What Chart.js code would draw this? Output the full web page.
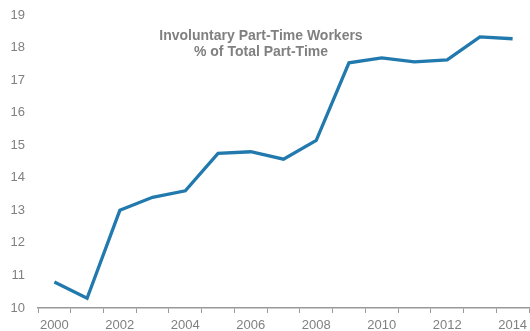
<!DOCTYPE html>
<html>
<head>
<meta charset="utf-8">
<script src="https://cdn.jsdelivr.net/npm/chart.js@4/dist/chart.umd.min.js"></script>
<style>
    html, body { margin: 0; padding: 0; background: #ffffff; }
    #wrap { width: 530px; height: 331px; }
</style>
</head>
<body>
<div id="wrap"><canvas id="chart" width="530" height="331"></canvas></div>
<script>
// Involuntary part-time workers as % of total part-time, yearly
const years = ['2000', '2001', '2002', '2003', '2004', '2005', '2006', '2007',
               '2008', '2009', '2010', '2011', '2012', '2013', '2014'];
const sharePct = [10.8, 10.3, 13.0, 13.4, 13.6, 14.75, 14.8, 14.57,
                  15.15, 17.53, 17.68, 17.56, 17.62, 18.33, 18.27];
const yMin = 10;
const yMax = 19;
const titleLines = ['Involuntary Part-Time Workers', '% of Total Part-Time'];

const textGray = '#808080';
const lineBlue = '#2179ae';

// Title block drawn inside the plot area
const insideTitle = {
    id: 'insideTitle',
    afterDraw(chart) {
        const ctx = chart.ctx;
        ctx.save();
        ctx.fillStyle = '#808080';
        ctx.font = 'bold 14px "Liberation Sans", Arial, sans-serif';
        ctx.textAlign = 'center';
        ctx.textBaseline = 'middle';
        titleLines.forEach((line, i) => {
            ctx.fillText(line, 261, 36 + i * 16);
        });
        ctx.restore();
    }
};

new Chart(document.getElementById('chart').getContext('2d'), {
    type: 'line',
    data: {
        labels: years,
        datasets: [{
            data: sharePct,
            borderColor: lineBlue,
            borderWidth: 3.3,
            borderJoinStyle: 'miter',
            pointRadius: 0,
            tension: 0,
            fill: false
        }]
    },
    options: {
        responsive: false,
        animation: false,
        layout: {
            autoPadding: false,
            padding: { top: 15, right: 1, bottom: 0, left: 0 }
        },
        plugins: {
            legend: { display: false },
            title: { display: false },
            tooltip: { enabled: false }
        },
        scales: {
            x: {
                offset: true,
                grid: {
                    display: true,
                    offset: true,
                    drawOnChartArea: false,
                    drawTicks: true,
                    tickLength: 5,
                    color: '#999999'
                },
                border: { display: true, color: '#999999', width: 1.5 },
                ticks: {
                    autoSkip: false,
                    maxRotation: 0,
                    padding: 5,
                    color: textGray,
                    font: { family: '"Liberation Sans", Arial, sans-serif', size: 13 },
                    callback: function(value, index) {
                        return index % 2 === 0 ? years[index] : '';
                    }
                },
                afterFit: function(scale) {
                    scale.height = 23;
                    scale.paddingLeft = 0;
                    scale.paddingRight = 0;
                }
            },
            y: {
                min: yMin,
                max: yMax,
                grid: { display: false, drawTicks: false },
                border: { display: false },
                ticks: {
                    stepSize: 1,
                    padding: 13,
                    color: textGray,
                    font: { family: '"Liberation Sans", Arial, sans-serif', size: 13 }
                },
                afterFit: function(scale) {
                    scale.width = 38;
                    scale.paddingTop = 0;
                    scale.paddingBottom = 0;
                }
            }
        }
    },
    plugins: [insideTitle]
});
</script>
</body>
</html>
